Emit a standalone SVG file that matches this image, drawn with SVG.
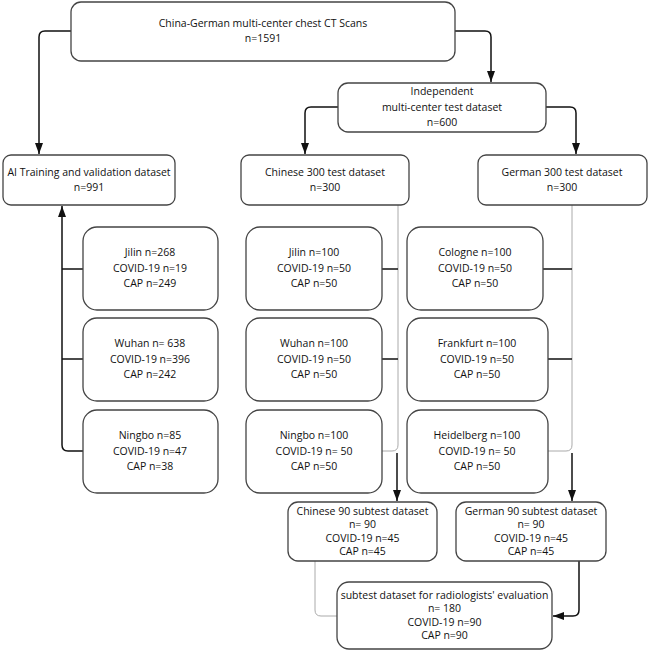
<svg xmlns="http://www.w3.org/2000/svg" width="649" height="652" viewBox="0 0 649 652">
<style>
.box{fill:#fff;stroke:#444;stroke-width:1.3}
.t{font-family:"Open Sans","Noto Sans",sans-serif;font-size:10.5px;fill:#111;text-anchor:middle}
.c{fill:none;stroke:#111;stroke-width:1.5}
.g{fill:none;stroke:#aaa;stroke-width:1}
</style>
<defs>
<marker id="ah" viewBox="0 0 11 8" refX="11" refY="4" markerWidth="11" markerHeight="8" markerUnits="userSpaceOnUse" orient="auto">
<path d="M0,0 L11,4 L0,8 Z" fill="#111"/>
</marker>
</defs>
<rect width="649" height="652" fill="#fff"/>
<g id="connectors">
<path class="c" d="M71,31 H45 Q39,31 39,37 V154" marker-end="url(#ah)"/>
<path class="c" d="M455,31 H485 Q491,31 491,37 V82" marker-end="url(#ah)"/>
<path class="c" d="M338,107 H311 Q305,107 305,113 V154" marker-end="url(#ah)"/>
<path class="c" d="M546,107 H570 Q576,107 576,113 V154" marker-end="url(#ah)"/>
<path class="c" d="M83,451 H68 Q62,451 62,445 V206" marker-end="url(#ah)"/>
<path class="c" d="M62,269 H83 M62,359 H83"/>
<path class="g" d="M398,205 V445 Q398,451 392,451 H382"/>
<path class="c" d="M382,269 H398 M382,359 H398"/>
<path class="c" d="M397,453 V501" marker-end="url(#ah)"/>
<path class="g" d="M572,205 V445 Q572,451 566,451 H548"/>
<path class="c" d="M543,269 H572 M548,359 H572"/>
<path class="c" d="M572,453 V501" marker-end="url(#ah)"/>
<path class="g" d="M315,561 V610 Q315,616 321,616 H337"/>
<path class="c" d="M579,561 V610 Q579,616 573,616 H553" marker-end="url(#ah)"/>
</g>
<g id="top"><rect class="box" x="71" y="2" width="384" height="59" rx="10"/>
<text class="t" x="263" y="27">China-German multi-center chest CT Scans</text>
<text class="t" x="263" y="42">n=1591</text></g>
<g id="independent"><rect class="box" x="338" y="83" width="208" height="49" rx="10"/>
<text class="t" x="442" y="95">Independent</text>
<text class="t" x="442" y="111">multi-center test dataset</text>
<text class="t" x="442" y="126">n=600</text></g>
<g id="ai"><rect class="box" x="3" y="155" width="172" height="50" rx="8"/>
<text class="t" x="89" y="176">AI Training and validation dataset</text>
<text class="t" x="89" y="191">n=991</text></g>
<g id="cn300"><rect class="box" x="241" y="155" width="168" height="50" rx="8"/>
<text class="t" x="325" y="176">Chinese 300 test dataset</text>
<text class="t" x="325" y="191">n=300</text></g>
<g id="de300"><rect class="box" x="478" y="155" width="169" height="50" rx="8"/>
<text class="t" x="562" y="176">German 300 test dataset</text>
<text class="t" x="562" y="191">n=300</text></g>
<g id="ai-jilin"><rect class="box" x="83" y="227" width="135" height="83" rx="14"/>
<text class="t" x="150" y="256">Jilin n=268</text>
<text class="t" x="150" y="272">COVID-19 n=19</text>
<text class="t" x="150" y="287">CAP n=249</text></g>
<g id="ai-wuhan"><rect class="box" x="83" y="318" width="135" height="83" rx="14"/>
<text class="t" x="150" y="347">Wuhan n= 638</text>
<text class="t" x="150" y="363">COVID-19 n=396</text>
<text class="t" x="150" y="378">CAP n=242</text></g>
<g id="ai-ningbo"><rect class="box" x="83" y="410" width="135" height="83" rx="14"/>
<text class="t" x="150" y="439">Ningbo n=85</text>
<text class="t" x="150" y="455">COVID-19 n=47</text>
<text class="t" x="150" y="470">CAP n=38</text></g>
<g id="cn-jilin"><rect class="box" x="246" y="227" width="136" height="83" rx="14"/>
<text class="t" x="314" y="256">Jilin n=100</text>
<text class="t" x="314" y="272">COVID-19 n=50</text>
<text class="t" x="314" y="287">CAP n=50</text></g>
<g id="cn-wuhan"><rect class="box" x="246" y="318" width="136" height="83" rx="14"/>
<text class="t" x="314" y="347">Wuhan n=100</text>
<text class="t" x="314" y="363">COVID-19 n=50</text>
<text class="t" x="314" y="378">CAP n=50</text></g>
<g id="cn-ningbo"><rect class="box" x="246" y="410" width="136" height="83" rx="14"/>
<text class="t" x="314" y="439">Ningbo n=100</text>
<text class="t" x="314" y="455">COVID-19 n= 50</text>
<text class="t" x="314" y="470">CAP n=50</text></g>
<g id="de-cologne"><rect class="box" x="407" y="227" width="136" height="83" rx="14"/>
<text class="t" x="475" y="256">Cologne n=100</text>
<text class="t" x="475" y="272">COVID-19 n=50</text>
<text class="t" x="475" y="287">CAP n=50</text></g>
<g id="de-frankfurt"><rect class="box" x="407" y="318" width="141" height="83" rx="14"/>
<text class="t" x="477" y="347">Frankfurt n=100</text>
<text class="t" x="477" y="363">COVID-19 n=50</text>
<text class="t" x="477" y="378">CAP n=50</text></g>
<g id="de-heidelberg"><rect class="box" x="407" y="410" width="141" height="83" rx="14"/>
<text class="t" x="477" y="439">Heidelberg n=100</text>
<text class="t" x="477" y="455">COVID-19 n= 50</text>
<text class="t" x="477" y="470">CAP n=50</text></g>
<g id="cn90"><rect class="box" x="288" y="502" width="149" height="59" rx="10"/>
<text class="t" x="362.5" y="515">Chinese 90 subtest dataset</text>
<text class="t" x="362.5" y="528">n= 90</text>
<text class="t" x="362.5" y="542">COVID-19 n=45</text>
<text class="t" x="362.5" y="555">CAP n=45</text></g>
<g id="de90"><rect class="box" x="456" y="502" width="150" height="59" rx="10"/>
<text class="t" x="531" y="515">German 90 subtest dataset</text>
<text class="t" x="531" y="528">n= 90</text>
<text class="t" x="531" y="542">COVID-19 n=45</text>
<text class="t" x="531" y="555">CAP n=45</text></g>
<g id="eval"><rect class="box" x="337" y="582" width="215" height="67" rx="12"/>
<text class="t" x="444.5" y="599">subtest dataset for radiologists' evaluation</text>
<text class="t" x="444.5" y="612">n= 180</text>
<text class="t" x="444.5" y="626">COVID-19 n=90</text>
<text class="t" x="444.5" y="639">CAP n=90</text></g>
</svg>
